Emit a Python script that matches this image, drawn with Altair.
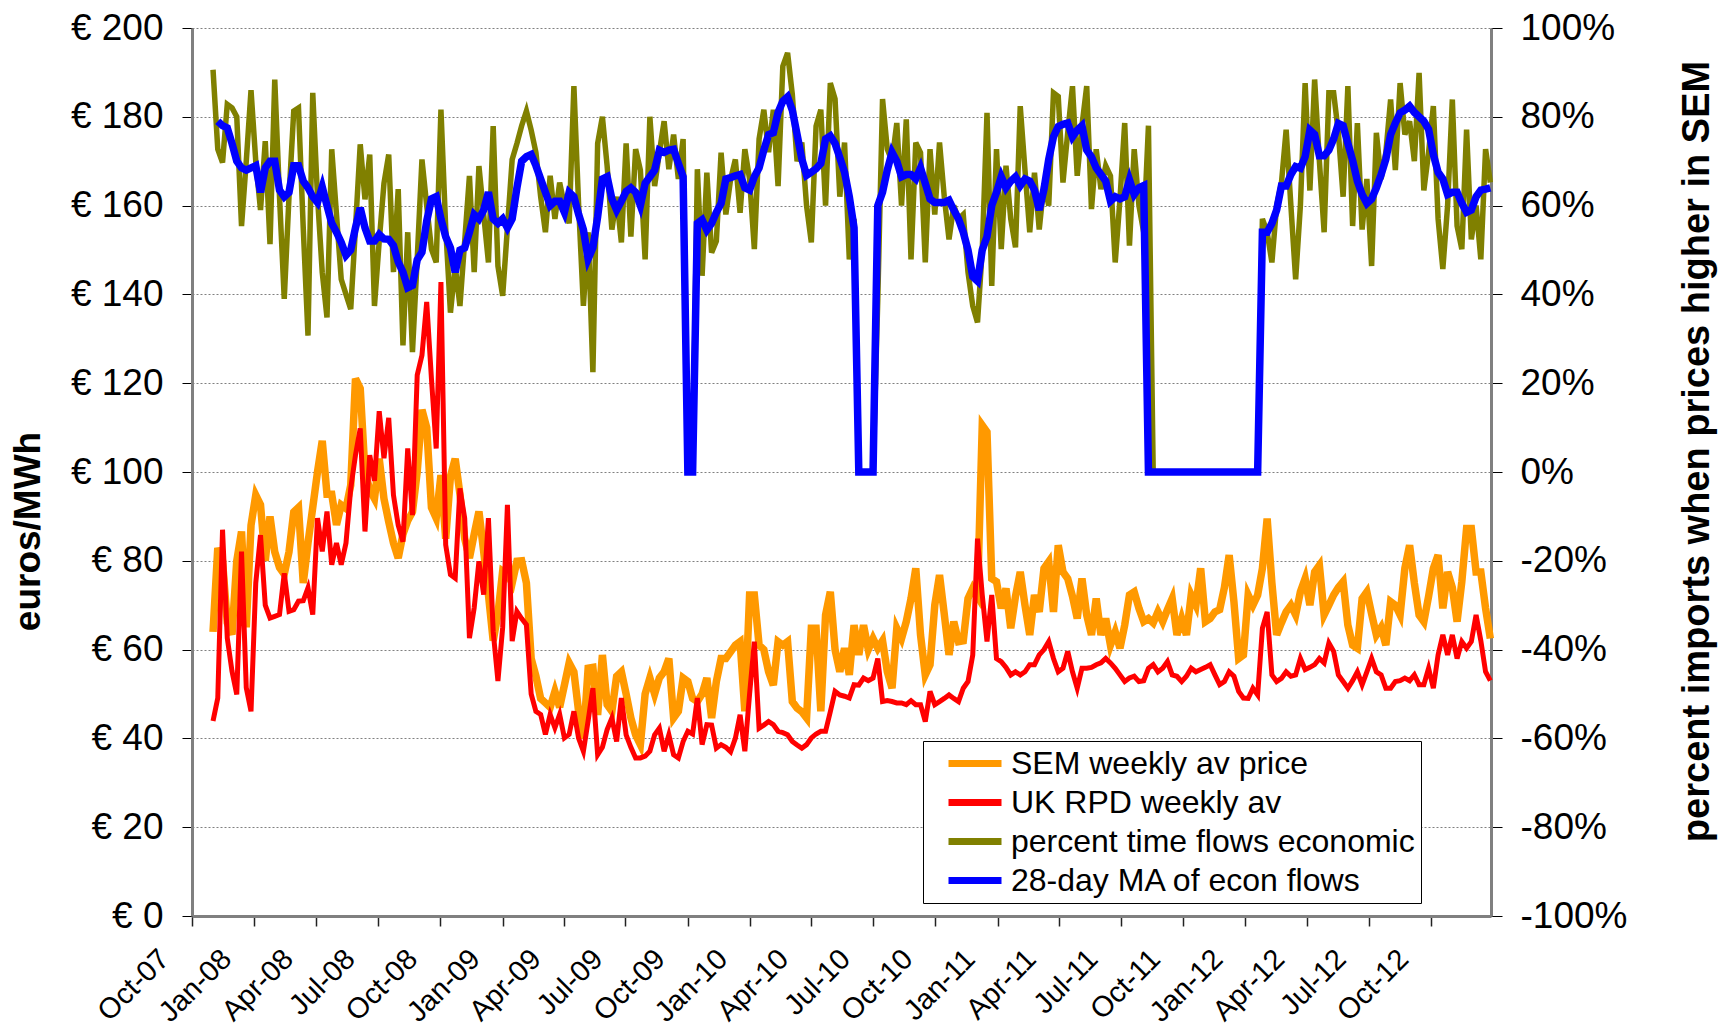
import altair as alt
import pandas as pd

START = "2007-11-01"
N_WEEKS = 270

series_names = ["SEM weekly av price", "UK RPD weekly av",
                "percent time flows economic", "28-day MA of econ flows"]
series_colors = ["#FF9900", "#FF0000", "#808000", "#0000FF"]

tick_dates = ["2007-10-01", "2008-01-01", "2008-04-01", "2008-07-01", "2008-10-01",
              "2009-01-01", "2009-04-01", "2009-07-01", "2009-10-01", "2010-01-01",
              "2010-04-01", "2010-07-01", "2010-10-01", "2011-01-01", "2011-04-01",
              "2011-07-01", "2011-10-01", "2012-01-01", "2012-04-01", "2012-07-01",
              "2012-10-01"]

sem_price = [
    64, 82.9, 80, 66, 63.4, 80, 86.6, 65, 88, 94.8,
    92.6, 80, 90, 82, 78.5, 77, 82, 91, 92, 75,
    84, 92, 100, 107, 95, 95, 88.1, 92.6, 91.8, 97,
    121, 118.8, 100, 96, 94, 103, 94, 88.8, 84, 80.6,
    86, 89, 91, 100, 114, 110, 92, 89.6, 99.3, 85,
    99, 103, 95, 85, 80.6, 86, 91.1, 82.1, 72.4, 62,
    68, 77.7, 77, 75, 79.9, 80, 75, 58, 54, 49,
    48, 47, 50.6, 47, 52, 57, 55, 46, 40, 55.8,
    56, 45.3, 58.8, 47.6, 46.1, 54, 55, 50, 44.6, 40.8,
    38.6, 50, 53.6, 50, 53.6, 55, 58, 44.6, 46.1, 53.6,
    52.8, 49, 48.3, 50, 53.6, 44.6, 52.8, 58, 58, 59.5,
    61, 61.8, 46.1, 72.3, 72.3, 61, 60, 55, 52, 61.8,
    61, 61.8, 48.3, 46.8, 46, 44.6, 64.8, 64.8, 46.1, 67.8,
    73, 60, 55, 60.3, 54.3, 65.5, 58.8, 65.5, 60, 62.5,
    60.3, 62, 55, 51.3, 64.8, 62.5, 66.3, 71.5, 78.3, 63.3,
    54.3, 56.6, 70, 76.8, 68, 58.8, 66.3, 61.8, 62, 71.5,
    73.8, 72, 110.5, 109, 76, 75.3, 69.3, 73.8, 64.8, 72,
    77.5, 70, 63.3, 72.3, 68.5, 78.3, 79.8, 68.5, 83.5, 77.5,
    76, 72, 67, 76, 67.8, 63.3, 71.5, 63.3, 67, 61,
    64, 60.3, 65.5, 72.3, 73, 69.3, 66.3, 67, 66, 68.5,
    66.3, 69, 71.5, 63.3, 67, 63.3, 72.3, 70, 78.3, 66.3,
    67, 68.5, 69, 74, 81.3, 70.8, 58, 58.8, 72.3, 70,
    72.3, 78.3, 89.5, 75, 63.3, 66, 68.5, 70, 67.8, 73,
    76, 70, 77.5, 79, 67.8, 70, 72.3, 74, 75.3, 65.5,
    61, 60.3, 71.5, 73, 68, 63.3, 65, 61, 70.8, 70,
    67.8, 78.3, 83.5, 75, 67.8, 66.3, 72, 78.3, 81.3, 69.3,
    77.5, 74, 66.3, 75.3, 87.3, 87.3, 77.5, 77.5, 69.3, 62.5,
]

uk_price = [
    43.9, 49.1, 87, 62.6, 55.1, 49.9, 82.1, 51.4, 46.1, 75,
    85.8, 70, 67.1, 67.5, 67.9, 77.2, 68.6, 69, 70.9, 71,
    73.9, 67.9, 89.6, 82.1, 91.1, 79.1, 84, 79.1, 84, 96.3,
    103.8, 109.8, 86.6, 103.8, 98, 113.7, 103.1, 112.2, 94.8, 88,
    84.3, 105.3, 90.3, 121.8, 126.3, 138.3, 121, 105.3, 142.8, 83.6,
    76.9, 76.1, 96.3, 89.6, 62.6, 69.4, 79.9, 72.4, 89.6, 64.1,
    52.9, 65, 92.6, 61.9, 68.6, 67, 65.6, 50, 46.1, 45.4,
    40.9, 45.4, 42.4, 45.4, 40.1, 40.9, 46.1, 40, 37.1, 44,
    51.3, 36.3, 38, 42, 44.6, 39.3, 49.1, 40.8, 38, 35.6,
    35.6, 36, 37.1, 40.8, 42.3, 37.1, 40.8, 36.3, 35.6, 39.3,
    41.6, 41, 49.1, 38.6, 43.1, 43, 37.8, 38.6, 38, 37,
    40, 45.3, 37.1, 50, 61.8, 42.3, 43, 43.8, 43.1, 41.6,
    41.3, 40.8, 39.3, 38.5, 37.8, 38.6, 40.1, 41, 41.6, 41.6,
    46, 50.6, 49.8, 49.5, 49.1, 52.1, 52, 53.6, 53, 53.6,
    58, 48.3, 48.5, 48.3, 48, 48, 47.6, 48.5, 47.6, 47.6,
    43.8, 50.6, 47.6, 48.3, 49, 49.8, 49, 48.3, 51.3, 52.8,
    58.8, 85, 72.3, 61.8, 72.3, 58, 57.3, 56, 54.3, 55,
    54.3, 55, 56.6, 56.6, 58.8, 60, 61.8, 58, 55, 55.8,
    59.6, 55, 51.3, 55.8, 55.8, 56, 56.6, 57, 58, 57,
    55.8, 54.3, 52.8, 53.6, 54, 52.8, 53, 55.8, 56.6, 55,
    55.8, 57.3, 54.3, 54, 52.8, 54, 55.8, 55, 55.5, 56,
    56.6, 54.3, 52.1, 52.8, 55, 54, 50.6, 49.1, 49, 51.3,
    49.8, 64.8, 68.5, 54.3, 52.8, 53.5, 55, 54, 54.3, 58,
    55.5, 56, 56.6, 58, 57, 61.5, 59.6, 54.3, 52.8, 51.3,
    53, 55, 52.1, 55, 58, 55, 54.3, 51.3, 51.3, 52.8,
    53, 53.6, 53, 54.3, 52.1, 52.1, 55.8, 51.3, 58.8, 63.3,
    58.8, 63.3, 58, 61.8, 60.3, 61.8, 67.8, 62, 55, 53,
]

pct_economic = [
    90.6, 72.7, 69.7, 82.8, 82, 80, 55.4, 70, 86, 70,
    59, 74.5, 51.3, 88.4, 62, 39, 62, 81.3, 82, 55,
    30.7, 85.4, 62, 45, 34.8, 72.7, 58, 43.4, 40, 36.7,
    55, 73.8, 61.4, 71.5, 37.4, 52, 65, 71.5, 45, 63.7,
    28.5, 54, 27, 48, 70.4, 60, 50.2, 47.2, 81.6, 55,
    35.9, 46.4, 37.4, 52, 66.7, 45, 68.9, 58, 47.2, 77.9,
    46.4, 39.7, 55, 70.4, 74, 78, 81.3, 77, 72, 62,
    54, 66.7, 57, 65.2, 60, 56, 86.9, 60, 37.4, 54,
    22.5, 74, 80, 68.9, 54.6, 62, 51.7, 74, 53, 72.7,
    68, 47.9, 80, 64.4, 72, 79, 68.2, 76, 66, 75,
    0, 0, 68.2, 44.2, 67.4, 49.4, 52, 71.9, 58, 65.9,
    70.4, 58.4, 72.7, 66, 50.2, 75, 81.6, 72, 81.6, 64.4,
    91.4, 94.4, 85, 70, 74.2, 60, 51.7, 77.9, 81.6, 60,
    87.6, 84, 62, 74.2, 47.9, 57, 0, 0, 0, 0,
    39, 84, 72.7, 70, 78.6, 60, 79.4, 47.9, 74.2, 71.9,
    47.2, 72.7, 58, 74.2, 62, 52.4, 60, 57, 58, 45,
    37.4, 33.7, 50, 80.9, 41.9, 72.7, 50.2, 69, 57, 50.6,
    82.4, 68, 54, 67.4, 54.6, 65, 60, 85.4, 84.6, 65.2,
    76.4, 86.9, 66.7, 78, 86.9, 59.2, 72.7, 63.7, 69, 66.7,
    47.2, 61.4, 78.6, 51, 72.7, 60, 54, 78, 0, 0,
    0, 0, 0, 0, 0, 0, 0, 0, 0, 0,
    0, 0, 0, 0, 0, 0, 0, 0, 0, 0,
    0, 57, 54, 47.2, 60, 65, 77.1, 60, 43.4, 60,
    87.6, 63.4, 88.4, 70, 54, 85.4, 85.4, 76.4, 62, 86.9,
    55.4, 78.6, 54.6, 66, 46.4, 76.4, 66, 72, 83.9, 68,
    87.6, 76, 79, 70, 89.9, 63.4, 72, 82.4, 57, 45.7,
    60, 83.9, 55.4, 50.2, 77.1, 52.4, 60, 47.9, 72.7, 65.2,
]

ma_28day = [
    None, 79, 78, 77.5, 74, 70, 68.5, 68, 68.5, 69,
    63, 68.5, 70, 70, 63.5, 62, 63, 69, 69, 65.5,
    64, 62, 60.7, 64.2, 60, 56, 54, 51.7, 48.8, 50,
    55, 59.5, 55, 52, 52, 53.5, 52.5, 52.4, 51, 47.3,
    45, 41.5, 42, 47.8, 49.5, 56.5, 61.5, 62, 57, 53,
    50.5, 45, 50, 50.5, 54, 58, 57, 59, 63, 57,
    56, 57, 55, 57, 64, 70, 71, 71.5, 69, 66,
    63, 60, 61, 61, 58.5, 63, 62, 58, 54.6, 48,
    50.5, 57.5, 66, 66.5, 61.5, 59, 61, 63.2, 64, 63,
    60, 65, 66.5, 68, 72.5, 72, 72.5, 72.7, 69.5, 66.5,
    0, 0, 56, 56.8, 54.5, 56, 58.5, 60.5, 66, 66.3,
    66.7, 67, 64, 63.5, 66.5, 68.5, 72.5, 76, 76.4, 81,
    83.5, 84.5, 81.5, 76, 70.5, 66.8, 67.5, 68.3, 69.5, 75,
    75.7, 74, 70.8, 67.5, 62, 55, 0, 0, 0, 0,
    60, 63, 68, 72, 70, 66.5, 67, 67, 66, 68.5,
    65, 61.5, 60.7, 60.7, 60.7, 61.2, 59, 57, 54, 50,
    44, 43, 50, 53, 60, 63, 66.5, 64, 65.5, 66.5,
    64.5, 66, 65.5, 63.5, 59, 63.7, 70.4, 75.5, 77.8, 78.3,
    78.6, 75.5, 77, 78, 72.5, 71, 68.5, 67, 65.5, 61,
    62, 61.5, 62, 65.8, 62.5, 64, 64.5, 0, 0, 0,
    0, 0, 0, 0, 0, 0, 0, 0, 0, 0,
    0, 0, 0, 0, 0, 0, 0, 0, 0, 0,
    0, 54, 54, 56, 59, 64.4, 64.4, 67, 68.8, 68.4,
    71, 77, 76, 71.2, 71.2, 72.5, 75, 78.5, 78, 74,
    70.2, 65.5, 62.5, 60.5, 61.5, 64, 67, 70.5, 76, 78.6,
    80.9, 81.5, 82.4, 81, 80, 79, 77.2, 71.5, 67.5, 66,
    62.5, 63, 63, 60.5, 58.5, 59, 62, 63.5, 63.7, 64,
]

dates = pd.date_range(START, periods=N_WEEKS, freq="7D").strftime("%Y-%m-%d")

frames = []
for name, vals in zip(series_names, [sem_price, uk_price, pct_economic, ma_28day]):
    frames.append(pd.DataFrame({"date": dates, "series": name, "value": vals}))
data = pd.concat(frames, ignore_index=True).dropna()

FONT = "Liberation Sans"


def dt(s):
    y, m, d = (int(p) for p in s.split("-"))
    return alt.DateTime(year=y, month=m, date=d, utc=True)


x_enc = alt.X(
    "date:T",
    scale=alt.Scale(type="utc", domain=[dt("2007-10-01"), dt("2012-12-28")]),
    axis=alt.Axis(
        values=[dt(s) for s in tick_dates],
        labelExpr="utcFormat(datum.value, '%b-%y')",
        title=None, grid=False,
        domainColor="#808080", domainWidth=3,
        tickColor="#222222", tickWidth=1.5, tickSize=10,
        labelAngle=315, labelAlign="right", labelBaseline="middle",
        labelPadding=28, labelOffset=-28, labelOverlap=False,
        labelFontSize=29, labelFont=FONT, labelColor="black",
    ),
)

color_enc = alt.Color(
    "series:N",
    scale=alt.Scale(domain=series_names, range=series_colors),
    legend=alt.Legend(
        title=None, orient="none", legendX=731, legendY=713,
        symbolType="stroke", symbolSize=2809, symbolStrokeWidth=7,
        labelFontSize=32, labelFont=FONT, labelColor="black", labelLimit=0,
        clipHeight=33,
        padding=6, rowPadding=6, symbolOffset=16, labelOffset=6,
        strokeColor="black", fillColor="white",
    ),
)

left_y = alt.Y(
    "value:Q",
    scale=alt.Scale(domain=[0, 200], nice=False, zero=False),
    axis=alt.Axis(
        values=list(range(0, 201, 20)),
        labelExpr="'€ ' + datum.value",
        orient="left",
        grid=True, gridColor="#808080", gridDash=[2, 2], gridWidth=1,
        domainColor="#808080", domainWidth=3,
        tickColor="black", tickWidth=1, tickSize=10,
        labelFontSize=37, labelFont=FONT, labelColor="black", labelPadding=19,
        title="euros/MWh", titleFont=FONT, titleFontSize=37, titleFontWeight="bold",
        titleColor="black", titleAngle=270, titleX=-164, titleY=503,
        titleAlign="center", titleBaseline="middle",
    ),
)

right_y = alt.Y(
    "value:Q",
    scale=alt.Scale(domain=[-100, 100], nice=False, zero=False),
    axis=alt.Axis(
        values=list(range(-100, 101, 20)),
        labelExpr="(datum.value < 0 ? '-' + abs(datum.value) : '' + datum.value) + '%'",
        orient="right",
        grid=False,
        domainColor="#808080", domainWidth=3,
        tickColor="black", tickWidth=1, tickSize=11,
        labelFontSize=37, labelFont=FONT, labelColor="black", labelPadding=18,
        title="percent imports when prices higher in SEM", titleFont=FONT,
        titleFontSize=38, titleFontWeight="bold", titleColor="black",
        titleAngle=270, titleX=206, titleY=423,
        titleAlign="center", titleBaseline="middle",
    ),
)

base = alt.Chart(data)


def series_layer(name, width, y_enc):
    return base.transform_filter(alt.datum.series == name).mark_line(
        strokeWidth=width
    ).encode(x=x_enc, y=y_enc, color=color_enc)


price_layers = alt.layer(
    series_layer(series_names[0], 7.5, left_y),
    series_layer(series_names[1], 5, left_y),
)
pct_layers = alt.layer(
    series_layer(series_names[2], 5.5, right_y),
    series_layer(series_names[3], 7.5, right_y),
)

chart = (
    alt.layer(price_layers, pct_layers)
    .resolve_scale(y="independent")
    .properties(
        width=1299, height=888,
        autosize=alt.AutoSizeParams(type="none"),
        padding={"left": 184, "top": 20, "right": 228, "bottom": 113},
        background="white",
    )
    .configure(font=FONT)
    .configure_view(strokeWidth=0)
)

chart.save("out.html", embed_options={"renderer": "svg", "actions": False})
